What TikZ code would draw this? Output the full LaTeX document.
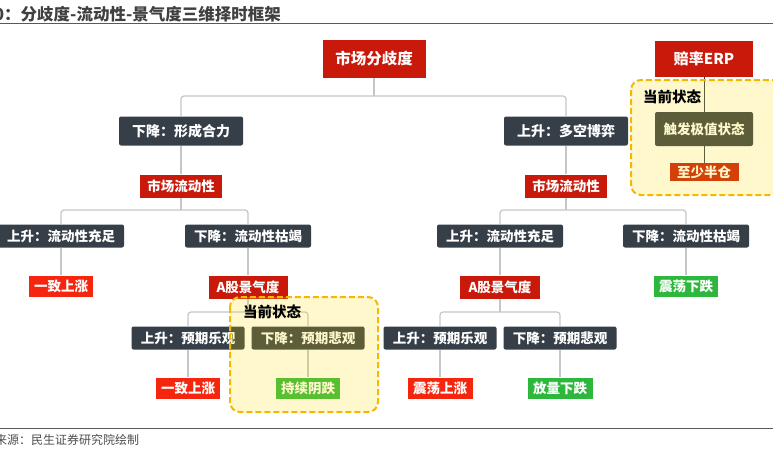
\documentclass[tikz,border=0pt]{standalone}
\usepackage{fontspec}
\setmainfont{Noto Sans CJK SC}
\usetikzlibrary{positioning}
\definecolor{boxdark}{HTML}{363E48}
\definecolor{boxred}{HTML}{C9190B}
\definecolor{boxbright}{HTML}{F5250E}
\definecolor{boxgreen}{HTML}{2DB83D}
\definecolor{linkgray}{HTML}{C3C6CA}
\definecolor{stategold}{HTML}{F5B800}
\definecolor{statefill}{HTML}{FFDC00}
\tikzset{
  box/.style={text=white, font=\bfseries\fontsize{13.5}{15}\selectfont, inner sep=0pt, minimum height=23pt},
  darkbox/.style={box, fill=boxdark, rounded corners=2pt, minimum width=124pt},
  redbox/.style={box, fill=boxred, minimum width=82pt},
  upbox/.style={box, fill=boxbright, minimum width=64pt, minimum height=21pt},
  downbox/.style={box, fill=boxgreen, minimum width=64pt, minimum height=21pt},
  link/.style={draw=linkgray, line width=1.2pt, rounded corners=3pt},
  statebox/.style={draw=stategold, line width=2pt, dash pattern=on 6pt off 3pt, rounded corners=10pt, fill=statefill, fill opacity=0.2},
  statetext/.style={font=\bfseries\fontsize{14.5}{16}\selectfont, text=black}
}
\begin{document}
\begin{tikzpicture}[x=1pt, y=-1pt, line join=round]
        \useasboundingbox (0,0) rectangle (773,452);
        % title and rules
        \node[anchor=west, inner sep=0pt, text=black!75, font=\bfseries\fontsize{16.5}{18}\selectfont] (title) at (-6,14) {0：分歧度-流动性-景气度三维择时框架};
        \draw[black!65, line width=1pt] (0,24) -- (773,24);
        \draw[black!65, line width=1pt] (0,428) -- (773,428);
        \node[anchor=west, inner sep=0pt, text=black!70, font=\fontsize{12}{14}\selectfont] (source) at (-5,440) {来源：民生证券研究院绘制};
        % root
        \node[redbox, minimum width=103pt, minimum height=38pt, font=\bfseries\fontsize{15.5}{17}\selectfont] (fenqi) at (374,59) {市场分歧度};
        \node[darkbox, minimum height=29pt, font=\bfseries\fontsize{14}{15}\selectfont] (hl) at (181,131) {下降：形成合力};
        \node[darkbox, minimum height=29pt, font=\bfseries\fontsize{14}{15}\selectfont] (bo) at (566,131) {上升：多空博弈};
        \coordinate (j0) at (374,96);
        \draw[link] (fenqi.south) -- (j0);
        \draw[link] (hl.north) |- (j0) -| (bo.north);
        % left branch
        \node[redbox] (ldxL) at (181,186) {市场流动性};
        \draw[link] (hl.south) -- (ldxL.north);
        \node[darkbox, minimum width=126pt] (czL) at (61,236) {上升：流动性充足};
        \node[darkbox, minimum width=126pt] (kjL) at (248,236) {下降：流动性枯竭};
        \coordinate (j1) at (181,210);
        \draw[link] (ldxL.south) -- (j1);
        \draw[link] (czL.north) |- (j1) -| (kjL.north);
        \node[upbox] (yzL) at (61,286) {一致上涨};
        \node[redbox, minimum width=79pt] (jqL) at (248,287) {A股景气度};
        \draw[link] (czL.south) -- (yzL.north);
        \draw[link] (kjL.south) -- (jqL.north);
        \node[darkbox, minimum width=113pt] (lgL) at (188,338) {上升：预期乐观};
        \node[darkbox, minimum width=113pt] (bgL) at (308,338) {下降：预期悲观};
        \coordinate (j2) at (248,312);
        \draw[link] (jqL.south) -- (j2);
        \draw[link] (lgL.north) |- (j2) -| (bgL.north);
        \node[upbox] (yz2) at (188,388) {一致上涨};
        \node[downbox] (cxL) at (308,388) {持续阴跌};
        \draw[link] (lgL.south) -- (yz2.north);
        \draw[link] (bgL.south) -- (cxL.north);
        % right branch
        \node[redbox] (ldxR) at (566,186) {市场流动性};
        \draw[link] (bo.south) -- (ldxR.north);
        \node[darkbox, minimum width=126pt] (czR) at (500,236) {上升：流动性充足};
        \node[darkbox, minimum width=126pt] (kjR) at (686,236) {下降：流动性枯竭};
        \coordinate (j3) at (566,210);
        \draw[link] (ldxR.south) -- (j3);
        \draw[link] (czR.north) |- (j3) -| (kjR.north);
        \node[redbox, minimum width=80pt] (jqR) at (500,287) {A股景气度};
        \node[downbox] (zdR) at (686,286) {震荡下跌};
        \draw[link] (czR.south) -- (jqR.north);
        \draw[link] (kjR.south) -- (zdR.north);
        \node[darkbox, minimum width=113pt] (lgR) at (440,338) {上升：预期乐观};
        \node[darkbox, minimum width=113pt] (bgR) at (560,338) {下降：预期悲观};
        \coordinate (j4) at (500,312);
        \draw[link] (jqR.south) -- (j4);
        \draw[link] (lgR.north) |- (j4) -| (bgR.north);
        \node[upbox, minimum width=65pt] (zsR) at (440,388) {震荡上涨};
        \node[downbox, minimum width=65pt] (flR) at (560,388) {放量下跌};
        \draw[link] (lgR.south) -- (zsR.north);
        \draw[link] (bgR.south) -- (flR.north);
        % ERP
        \node[redbox, minimum width=98pt, minimum height=35pt, font=\bfseries\fontsize{15}{16}\selectfont] (erp) at (704,59) {赔率ERP};
        \node[darkbox, minimum width=98pt, minimum height=34pt] (jz) at (704,129) {触发极值状态};
        \node[redbox, minimum width=69pt, minimum height=18pt] (bc) at (704,172) {至少半仓};
        \draw[boxdark, line width=1pt] (erp.south) -- (jz.north);
        \draw[boxdark, line width=1pt] (jz.south) -- (bc.north);
        % current state
        \path[statebox] (230,297) rectangle (378,412);
        \path[statebox] (631,80) rectangle (790,195);
        \node[statetext] (nowL) at (272,312) {当前状态};
        \node[statetext] (nowR) at (672,97) {当前状态};
\end{tikzpicture}
\end{document}
